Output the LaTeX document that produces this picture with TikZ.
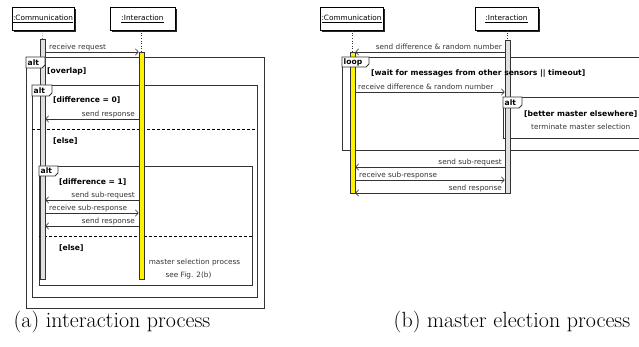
\documentclass[tikz,border=0pt]{standalone}
\usepackage{fontspec}
\newfontfamily\diag{DejaVu Sans}
\usetikzlibrary{arrows.meta,shadows}

\definecolor{linegray}{HTML}{333333}
\definecolor{barfill}{HTML}{E0E0E0}

\tikzset{
  lbl/.style={font=\diag\fontsize{7.3}{8}\selectfont, text=linegray, inner sep=0pt},
  guard/.style={font=\diag\bfseries\fontsize{7.6}{8}\selectfont, inner sep=0pt},
  msg/.style={draw=linegray, line width=0.8pt,
    -{Straight Barb[length=3pt,width=6.5pt,line width=0.6pt]}},
  umlframe/.style={draw=linegray, line width=0.9pt},
  umltab/.style={draw=linegray, line width=0.9pt, fill=white},
  headbox/.style={draw=black, line width=0.6pt, fill=white, minimum height=23pt,
    inner sep=0pt, font=\diag\fontsize{7.3}{8}\selectfont,
    drop shadow={shadow xshift=2pt, shadow yshift=-2pt, fill=black!85, opacity=1}},
  actbar/.style={draw=linegray, line width=0.6pt, fill=barfill, minimum width=5pt,
    inner sep=0pt, anchor=north},
  ctlbar/.style={draw=linegray, line width=0.6pt, fill=yellow, minimum width=5pt,
    inner sep=0pt, anchor=north},
  lifeline/.style={draw=linegray, line width=0.6pt, dotted},
  divider/.style={draw=black, line width=0.8pt, dash pattern=on 3pt off 2pt},
  caption/.style={font=\fontsize{22}{26}\selectfont, inner sep=0pt, anchor=base}
}

\begin{document}
\begin{tikzpicture}[x=1pt,y=-1pt]
\useasboundingbox (0,0) rectangle (639,347);

% ---------- (a) interaction process ----------
\node[headbox, minimum width=62pt] (commA) at (43,18.5) {\underline{:Communication}};
\node[headbox, minimum width=65pt] (interA) at (142.5,18.5) {\underline{:Interaction}};

% combined fragments
\draw[umlframe] (26,57) rectangle (264,308);
\draw[umlframe] (32,85) rectangle (257,297);
\draw[divider] (32,129) -- (257,129);
\draw[umlframe] (39,166) rectangle (252,285);
\draw[divider] (39,236) -- (252,236);

% activations
\node[actbar, minimum height=240pt] (barCA) at (42.5,39) {};
\node[ctlbar, minimum height=227pt] (barIA) at (141.5,52) {};
\draw[lifeline] (commA.south) -- (barCA.north);
\draw[lifeline] (interA.south -| barIA.north) -- (barIA.north);

% fragment tabs
\draw[umltab] (26,57) -- (45,57) -- (45,65) -- (42,68) -- (26,68) -- cycle;
\node[guard, anchor=base west] (tA1) at (27.5,65.5) {alt};
\draw[umltab] (32,85) -- (52,85) -- (52,93) -- (49,96) -- (32,96) -- cycle;
\node[guard, anchor=base west] (tA2) at (33.5,93.5) {alt};
\draw[umltab] (39,166) -- (58,166) -- (58,173) -- (55,176) -- (39,176) -- cycle;
\node[guard, anchor=base west] (tA3) at (40.5,174) {alt};

% guards
\node[guard, anchor=base west] (gA1) at (47,73.7) {[overlap]};
\node[guard, anchor=base west] (gA2) at (53,102.7) {[difference = 0]};
\node[guard, anchor=base west] (gA3) at (53,143.7) {[else]};
\node[guard, anchor=base west] (gA4) at (59,184.7) {[difference = 1]};
\node[guard, anchor=base west] (gA5) at (59,250.7) {[else]};

% messages
\draw[msg] (barCA.east |- 0,52) -- (barIA.west |- 0,52);
\node[lbl, anchor=base west] (mA1) at (49,49.3) {receive request};
\draw[msg] (barIA.west |- 0,119) -- (barCA.east |- 0,119);
\node[lbl, anchor=base east] (mA2) at (135,117) {send response};
\draw[msg] (barIA.west |- 0,200) -- (barCA.east |- 0,200);
\node[lbl, anchor=base east] (mA3) at (135,198) {send sub-request};
\draw[msg] (barCA.east |- 0,213) -- (barIA.west |- 0,213);
\node[lbl, anchor=base west] (mA4) at (49,211) {receive sub-response};
\draw[msg] (barIA.west |- 0,226) -- (barCA.east |- 0,226);
\node[lbl, anchor=base east] (mA5) at (135,223.8) {send response};

\node[lbl, anchor=base] (noteA1) at (194.5,264.2) {master selection process};
\node[lbl, anchor=base] (noteA2) at (188.5,277.2) {see Fig. 2(b)};

% ---------- (b) master election process ----------
\node[headbox, minimum width=63pt] (commB) at (351.5,18.5) {\underline{:Communication}};
\node[headbox, minimum width=63pt] (interB) at (506.5,18.5) {\underline{:Interaction}};

% loop fragment (runs past the right edge)
\draw[umlframe] (640,57) -- (342,57) -- (342,150) -- (640,150);
\draw[umlframe] (640,97) -- (503,97) -- (503,138) -- (640,138);

\node[ctlbar, minimum height=141pt] (barCB) at (352.5,52) {};
\node[actbar, minimum height=153pt] (barIB) at (507.5,40) {};
\draw[lifeline] (commB.south -| barCB.north) -- (barCB.north);
\draw[lifeline] (interB.south -| barIB.north) -- (barIB.north);

\draw[umltab] (342,57) -- (369,57) -- (369,64) -- (366,67) -- (342,67) -- cycle;
\node[guard, anchor=base west] (tB1) at (343.5,65) {loop};
\draw[umltab] (503,97) -- (522,97) -- (522,105) -- (519,108) -- (503,108) -- cycle;
\node[guard, anchor=base west] (tB2) at (504.5,105.5) {alt};

\node[guard, anchor=base west] (gB1) at (371,75.7) {[wait for messages from other sensors || timeout]};
\node[guard, anchor=base west] (gB2) at (524,116.7) {[better master elsewhere]};
\node[lbl, anchor=base west] (noteB1) at (531,129.2) {terminate master selection};

\draw[msg] (barIB.west |- 0,52) -- (barCB.east |- 0,52);
\node[lbl, anchor=base east] (mB1) at (502,49.3) {send difference \& random number};
\draw[msg] (barCB.east |- 0,92) -- (barIB.west |- 0,92);
\node[lbl, anchor=base west] (mB2) at (358,90) {receive difference \& random number};
\draw[msg] (barIB.west |- 0,167) -- (barCB.east |- 0,167);
\node[lbl, anchor=base east] (mB3) at (502,165) {send sub-request};
\draw[msg] (barCB.east |- 0,180) -- (barIB.west |- 0,180);
\node[lbl, anchor=base west] (mB4) at (359,178) {receive sub-response};
\draw[msg] (barIB.west |- 0,193) -- (barCB.east |- 0,193);
\node[lbl, anchor=base east] (mB5) at (502,191) {send response};

% ---------- captions ----------
\node[caption] (capA) at (112,327) {(a) interaction process};
\node[caption] (capB) at (512,327) {(b) master election process};
\end{tikzpicture}
\end{document}
